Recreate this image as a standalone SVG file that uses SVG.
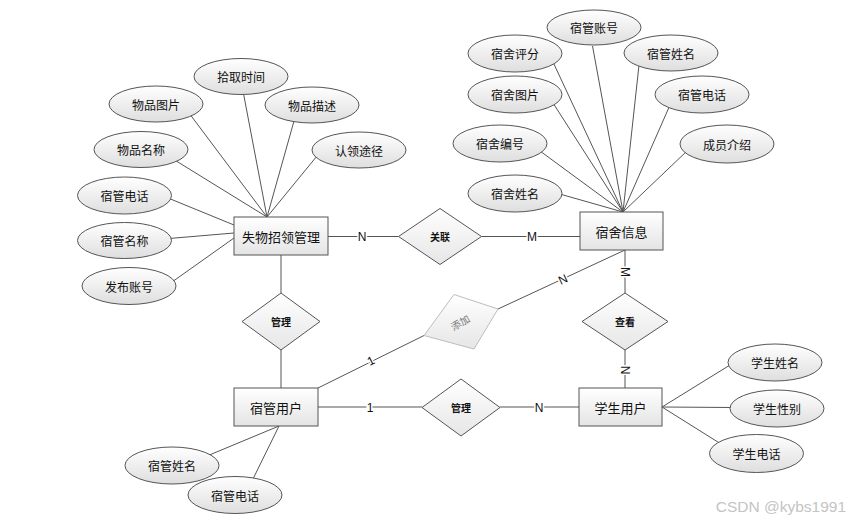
<svg xmlns="http://www.w3.org/2000/svg" width="850" height="520" viewBox="0 0 850 520">
<defs>
<linearGradient id="gE" x1="0" y1="0" x2="0" y2="1"><stop offset="0" stop-color="#ffffff"/><stop offset="1" stop-color="#dedede"/></linearGradient>
<linearGradient id="gR" x1="0" y1="0" x2="0" y2="1"><stop offset="0" stop-color="#ffffff"/><stop offset="1" stop-color="#e4e4e4"/></linearGradient>
<linearGradient id="gD" x1="0" y1="0" x2="0" y2="1"><stop offset="0" stop-color="#ffffff"/><stop offset="1" stop-color="#e6e6e6"/></linearGradient>
<style>
.ln{stroke:#555;stroke-width:1;fill:none}
.ell{fill:url(#gE);stroke:#555;stroke-width:1}
.ent{fill:url(#gR);stroke:#555;stroke-width:1}
.dia{fill:url(#gD);stroke:#555;stroke-width:1}
.dia2{fill:url(#gD);stroke:#bdbdbd;stroke-width:1}
.t{font-family:"Noto Sans CJK SC","Liberation Sans",sans-serif;text-anchor:middle;dominant-baseline:central;fill:#111}
.ta{font-size:12px}
.te{font-size:13px}
.td{font-size:10px;font-weight:bold}
.lb{font-family:"Liberation Sans",sans-serif;font-size:12px;text-anchor:middle;dominant-baseline:central;fill:#111;stroke:#fff;stroke-width:3;paint-order:stroke}
</style>
</defs>
<rect width="850" height="520" fill="#fff"/>
<g id="connectors">
<line class="ln" x1="267" y1="217" x2="189" y2="113"/>
<line class="ln" x1="267" y1="217" x2="243" y2="91"/>
<line class="ln" x1="267" y1="217" x2="294" y2="121"/>
<line class="ln" x1="267" y1="217" x2="317" y2="156"/>
<line class="ln" x1="267" y1="217" x2="173" y2="159"/>
<line class="ln" x1="234" y1="225" x2="168" y2="198"/>
<line class="ln" x1="234" y1="233" x2="169" y2="238.5"/>
<line class="ln" x1="234" y1="238" x2="172" y2="282"/>
<line class="ln" x1="623" y1="212" x2="592.5" y2="46"/>
<line class="ln" x1="623" y1="212" x2="553" y2="62"/>
<line class="ln" x1="623" y1="212" x2="639" y2="65"/>
<line class="ln" x1="623" y1="212" x2="553" y2="103"/>
<line class="ln" x1="623" y1="212" x2="670" y2="105"/>
<line class="ln" x1="623" y1="212" x2="540" y2="151"/>
<line class="ln" x1="623" y1="212" x2="688" y2="150"/>
<line class="ln" x1="623" y1="212" x2="558" y2="193.5"/>
<line class="ln" x1="279" y1="426" x2="207" y2="456"/>
<line class="ln" x1="279" y1="426" x2="252" y2="481"/>
<line class="ln" x1="662" y1="407" x2="730" y2="365"/>
<line class="ln" x1="662" y1="407" x2="733" y2="407.5"/>
<line class="ln" x1="662" y1="407" x2="721" y2="444"/>
<line class="ln" x1="328" y1="236.5" x2="398.5" y2="236.5"/>
<line class="ln" x1="481.5" y1="236.5" x2="580" y2="236.5"/>
<line class="ln" x1="281" y1="255" x2="281" y2="293"/>
<line class="ln" x1="281" y1="350" x2="281" y2="388"/>
<line class="ln" x1="318" y1="407" x2="422" y2="407"/>
<line class="ln" x1="500" y1="407" x2="579" y2="407"/>
<line class="ln" x1="318" y1="388" x2="424" y2="335.5"/>
<line class="ln" x1="498" y1="309" x2="625" y2="250"/>
<line class="ln" x1="625" y1="250" x2="625" y2="293"/>
<line class="ln" x1="625" y1="350" x2="625" y2="388"/>
<text class="lb" x="362" y="237">N</text>
<text class="lb" x="532" y="237">M</text>
<text class="lb" x="370" y="407.5">1</text>
<text class="lb" x="539" y="407.5">N</text>
<text class="lb" transform="translate(371,361) rotate(-27)">1</text>
<text class="lb" transform="translate(563,279.5) rotate(-25)">N</text>
<text class="lb" transform="translate(625,272) rotate(90)">M</text>
<text class="lb" transform="translate(625,370) rotate(90)">N</text>
</g>
<g id="n_shiwu">
<rect class="ent" x="234" y="217" width="94" height="38"/>
<text class="t te" x="281" y="236">失物招领管理</text>
</g>
<g id="n_sushexinxi">
<rect class="ent" x="580" y="212" width="83" height="38"/>
<text class="t te" x="621.5" y="231">宿舍信息</text>
</g>
<g id="n_suguanyonghu">
<rect class="ent" x="234" y="388" width="84" height="38"/>
<text class="t te" x="276" y="407">宿管用户</text>
</g>
<g id="n_xueshengyonghu">
<rect class="ent" x="579" y="388" width="83" height="38"/>
<text class="t te" x="620.5" y="407">学生用户</text>
</g>
<g id="r_guanlian">
<polygon class="dia" points="440,208.5 481.5,236.5 440,264.5 398.5,236.5"/>
<text class="t td" x="440" y="236.5">关联</text>
</g>
<g id="r_guanli1">
<polygon class="dia" points="281,293 320,321.5 281,350 242,321.5"/>
<text class="t td" x="281" y="321.5">管理</text>
</g>
<g id="r_tianjia">
<polygon class="dia2" points="454,294.5 498,309 474,349 424,335.5"/>
<text class="t" style="font-size:10px;fill:#777" transform="translate(460,322) rotate(-30)">添加</text>
</g>
<g id="r_chakan">
<polygon class="dia" points="625,293 668,321.5 625,350 582,321.5"/>
<text class="t td" x="625" y="321.5">查看</text>
</g>
<g id="r_guanli2">
<polygon class="dia" points="461,379 500,407.5 461,436 422,407.5"/>
<text class="t td" x="461" y="407.5">管理</text>
</g>
<g id="a_wupintupian"><ellipse class="ell" cx="156" cy="104" rx="47" ry="18"/><text class="t ta" x="156" y="104">物品图片</text></g>
<g id="a_shiqushijian"><ellipse class="ell" cx="241" cy="76.5" rx="47" ry="18"/><text class="t ta" x="241" y="76.5">拾取时间</text></g>
<g id="a_wupinmiaoshu"><ellipse class="ell" cx="312" cy="105" rx="47" ry="18"/><text class="t ta" x="312" y="105">物品描述</text></g>
<g id="a_renlingtujing"><ellipse class="ell" cx="359" cy="150" rx="47" ry="18"/><text class="t ta" x="359" y="150">认领途径</text></g>
<g id="a_wupinmingcheng"><ellipse class="ell" cx="141" cy="149.5" rx="47" ry="18"/><text class="t ta" x="141" y="149.5">物品名称</text></g>
<g id="a_suguandianhua1"><ellipse class="ell" cx="124.5" cy="195.5" rx="47" ry="18.5"/><text class="t ta" x="124.5" y="195.5">宿管电话</text></g>
<g id="a_suguanmingcheng"><ellipse class="ell" cx="124.5" cy="240.5" rx="47" ry="18"/><text class="t ta" x="124.5" y="240.5">宿管名称</text></g>
<g id="a_fabuzhanghao"><ellipse class="ell" cx="129" cy="286" rx="47" ry="18.5"/><text class="t ta" x="129" y="286">发布账号</text></g>
<g id="a_suguanzhanghao"><ellipse class="ell" cx="594" cy="27.5" rx="47" ry="17.5"/><text class="t ta" x="594" y="27.5">宿管账号</text></g>
<g id="a_sushepingfen"><ellipse class="ell" cx="515" cy="53.5" rx="47" ry="18.5"/><text class="t ta" x="515" y="53.5">宿舍评分</text></g>
<g id="a_suguanxingming1"><ellipse class="ell" cx="671" cy="53" rx="47" ry="18"/><text class="t ta" x="671" y="53">宿管姓名</text></g>
<g id="a_shushetupian"><ellipse class="ell" cx="515" cy="94.5" rx="47" ry="18.5"/><text class="t ta" x="515" y="94.5">宿舍图片</text></g>
<g id="a_suguandianhua2"><ellipse class="ell" cx="702" cy="94.5" rx="47" ry="18.5"/><text class="t ta" x="702" y="94.5">宿管电话</text></g>
<g id="a_sushebianhao"><ellipse class="ell" cx="500" cy="143.5" rx="47" ry="18.5"/><text class="t ta" x="500" y="143.5">宿舍编号</text></g>
<g id="a_chengyuanjieshao"><ellipse class="ell" cx="727" cy="144" rx="47" ry="19"/><text class="t ta" x="727" y="144">成员介绍</text></g>
<g id="a_shushexingming"><ellipse class="ell" cx="515" cy="193.5" rx="47" ry="18.5"/><text class="t ta" x="515" y="193.5">宿舍姓名</text></g>
<g id="a_suguanxingming2"><ellipse class="ell" cx="172" cy="465.5" rx="47" ry="18.5"/><text class="t ta" x="172" y="465.5">宿管姓名</text></g>
<g id="a_suguandianhua3"><ellipse class="ell" cx="235" cy="495" rx="47" ry="18.5"/><text class="t ta" x="235" y="495">宿管电话</text></g>
<g id="a_xueshengxingming"><ellipse class="ell" cx="775" cy="362.5" rx="47" ry="18.5"/><text class="t ta" x="775" y="362.5">学生姓名</text></g>
<g id="a_xueshengxingbie"><ellipse class="ell" cx="777" cy="408.5" rx="47" ry="18.5"/><text class="t ta" x="777" y="408.5">学生性别</text></g>
<g id="a_xueshengdianhua"><ellipse class="ell" cx="756.5" cy="453.5" rx="47" ry="19"/><text class="t ta" x="756.5" y="453.5">学生电话</text></g>
<text x="846" y="506" style="font-family:'Liberation Sans',sans-serif;font-size:15.5px;fill:#c4c4c4;text-anchor:end;dominant-baseline:central">CSDN @kybs1991</text>
</svg>
